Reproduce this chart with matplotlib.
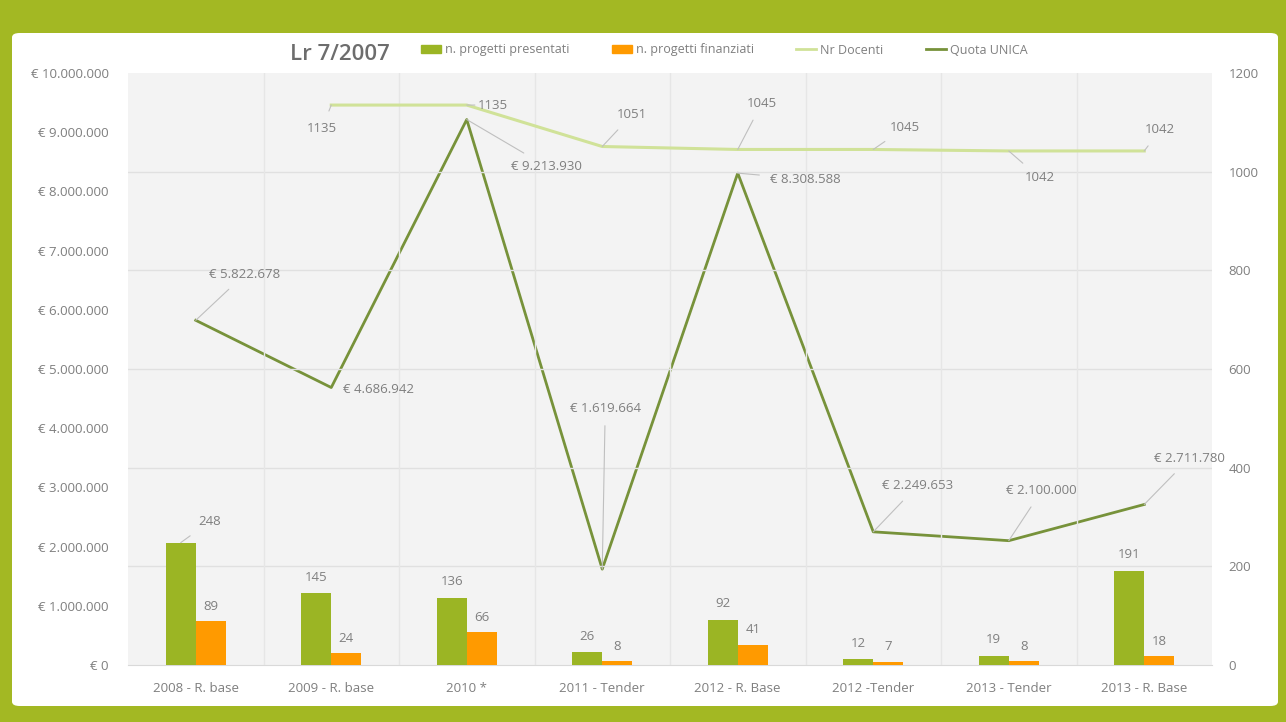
import numpy as np
import matplotlib
matplotlib.use('Agg')
import matplotlib.pyplot as plt
from matplotlib.patches import FancyBboxPatch, Patch
from matplotlib.lines import Line2D

categories = ['2008 - R. base', '2009 - R. base', '2010 *', '2011 - Tender',
              '2012 - R. Base', '2012 -Tender', '2013 - Tender', '2013 - R. Base']
presentati = [248, 145, 136, 26, 92, 12, 19, 191]
finanziati = [89, 24, 66, 8, 41, 7, 8, 18]
quota_unica = [5822678, 4686942, 9213930, 1619664, 8308588, 2249653, 2100000, 2711780]
nr_docenti = [np.nan, 1135, 1135, 1051, 1045, 1045, 1042, 1042]

# label offsets (pixels) for the line labels
quota_offsets = [(49, 46), (52, -2), (80, -47), (3, 161), (68, -6), (44, 46), (33, 50), (45, 46)]
docenti_offsets = [None, (-9, -23), (26, 0), (30, 32), (24, 46), (32, 22), (31, -27), (16, 21)]

GREEN_FRAME = '#a3b823'
BAR_GREEN = '#9bb524'
BAR_ORANGE = '#ff9a00'
LINE_QUOTA = '#77923a'
LINE_DOC = '#d0e298'
TXT = '#7f7f7f'
FS = 9.5
plt.rcParams['font.family'] = ['Open Sans', 'DejaVu Sans']


def euro(v):
    return '€ ' + f'{int(v):,}'.replace(',', '.')


def main():
    fig = plt.figure(figsize=(12.86, 7.22), dpi=100, facecolor=GREEN_FRAME)
    panel = FancyBboxPatch((12 / 1286, 16 / 722), 1266 / 1286, 673 / 722,
                           boxstyle='round,pad=0,rounding_size=0.006',
                           transform=fig.transFigure, facecolor='white',
                           edgecolor='none', zorder=0)
    fig.patches.append(panel)

    ax = fig.add_axes([128 / 1286, 57 / 722, 1084 / 1286, 592 / 722])
    ax2 = ax.twinx()
    ax.set_facecolor('#f3f3f3')
    ax.set_zorder(1)
    ax2.set_zorder(2)

    x = np.arange(len(categories))
    n = len(categories)
    w = 0.222

    ax.set_xlim(-0.5, n - 0.5)
    ax.set_ylim(0, 10000000)
    ax2.set_ylim(0, 1200)

    # grid
    for yv in range(200, 1200, 200):
        ax2.axhline(yv, color='#e0e0e0', lw=1.0, zorder=0)
    for b in np.arange(0.5, n - 0.5, 1):
        ax2.axvline(b, color='#e6e6e6', lw=1.0, zorder=0)

    # bars on right axis
    ax2.bar(x - w / 2, presentati, width=w, color=BAR_GREEN, zorder=2)
    ax2.bar(x + w / 2, finanziati, width=w, color=BAR_ORANGE, zorder=2)

    # lines
    ax.plot(x, quota_unica, color=LINE_QUOTA, lw=2.0, zorder=3)
    ax2.plot(x, nr_docenti, color=LINE_DOC, lw=2.2, zorder=3)

    lab_kw = dict(textcoords='offset pixels', ha='center', va='center',
                  fontsize=FS, color=TXT)
    arr = dict(arrowstyle='-', color='#bfbfbf', lw=0.8, shrinkA=6, shrinkB=0)

    for i, v in enumerate(quota_unica):
        dx, dy = quota_offsets[i]
        if i == 1:
            ax2.annotate(euro(v), xy=(x[i], v / 10000000 * 1200), xytext=(12, dy),
                         textcoords='offset pixels', ha='left', va='center',
                         fontsize=FS, color=TXT, zorder=5)
        else:
            ax2.annotate(euro(v), xy=(x[i], v / 10000000 * 1200), xytext=(dx, dy),
                         arrowprops=arr, zorder=5, **lab_kw)

    for i, v in enumerate(nr_docenti):
        if np.isnan(v):
            continue
        dx, dy = docenti_offsets[i]
        ax2.annotate(f'{int(v)}', xy=(x[i], v), xytext=(dx, dy),
                     arrowprops=arr, zorder=5, **lab_kw)

    for i, v in enumerate(presentati):
        if i == 0:
            ax2.annotate(str(v), xy=(x[i] - w / 2, v), xytext=(29, 21),
                         arrowprops=arr, zorder=5, **lab_kw)
        else:
            ax2.annotate(str(v), xy=(x[i] - w / 2, v), xytext=(0, 16),
                         zorder=5, **lab_kw)
    for i, v in enumerate(finanziati):
        ax2.annotate(str(v), xy=(x[i] + w / 2, v), xytext=(0, 15),
                     zorder=5, **lab_kw)

    # axes styling
    for a in (ax, ax2):
        for s in a.spines.values():
            s.set_visible(False)
        a.tick_params(length=0, colors=TXT, labelsize=FS)
    ax.spines['bottom'].set_visible(True)
    ax.spines['bottom'].set_color('#d9d9d9')

    ax.set_xticks(x)
    ax.set_xticklabels(categories, fontsize=FS, color=TXT)
    ax.tick_params(axis='x', pad=12)
    yt = np.arange(0, 10000001, 1000000)
    ax.set_yticks(yt)
    ax.set_yticklabels([euro(v) for v in yt])
    ax.tick_params(axis='y', pad=14)
    ax2.set_yticks(np.arange(0, 1201, 200))
    ax2.tick_params(axis='y', pad=12)

    # title and legend
    fig.text(290 / 1286, 1 - 55 / 722, 'Lr 7/2007', fontsize=16, color='#6d6d6d',
             fontweight='semibold', va='center', ha='left')
    handles = [Patch(color=BAR_GREEN), Patch(color=BAR_ORANGE),
               Line2D([], [], color=LINE_DOC, lw=2), Line2D([], [], color=LINE_QUOTA, lw=2)]
    labels = ['n. progetti presentati', 'n. progetti finanziati', 'Nr Docenti', 'Quota UNICA']
    fig.legend(handles, labels, loc='center left', bbox_to_anchor=(410 / 1286, 1 - 50 / 722),
               ncol=4, frameon=False, fontsize=9, labelcolor=TXT, handlelength=1.6,
               handleheight=0.6, handletextpad=0.3, columnspacing=3.4)

    fig.savefig('out.png', dpi=100, facecolor=fig.get_facecolor())


if __name__ == "__main__":
    main()
